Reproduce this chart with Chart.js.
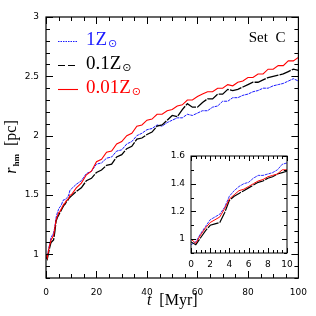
<!DOCTYPE html>
<html>
<head>
<meta charset="utf-8">
<script src="https://cdn.jsdelivr.net/npm/chart.js@4.4.1/dist/chart.umd.min.js"></script>
<style>
  body { margin: 0; background: #fff; }
  #wrap { position: relative; width: 316px; height: 316px; }
  #main { position: absolute; left: 0; top: 0; }
  #inset { position: absolute; left: 160px; top: 140px; }
</style>
</head>
<body>
<div id="wrap">
  <canvas id="main" width="316" height="316"></canvas>
  <canvas id="inset" width="140" height="140"></canvas>
</div>
<script>
// time in Myr
var times = [0, 0.5, 1, 1.5, 2, 2.5, 3, 3.5, 4, 4.5, 5, 5.5, 6, 6.5, 7, 7.5, 8, 8.5, 9, 9.5, 10,
  12, 14, 16, 18, 20, 22, 24, 26, 28, 30, 32, 34, 36, 38, 40, 42, 44, 46, 48, 50,
  52, 54, 56, 58, 60, 62, 64, 66, 68, 70, 72, 74, 76, 78, 80, 82, 84, 86, 88, 90,
  92, 94, 96, 98, 100];

// half-mass radius [pc], 1 Zsun (blue dotted)
var rhm1 = [0.96, 0.98, 1.04, 1.09, 1.14, 1.16, 1.18, 1.23, 1.31, 1.35, 1.38, 1.40, 1.41, 1.44, 1.46, 1.46, 1.47, 1.48, 1.50, 1.54, 1.55,
  1.59, 1.62, 1.68, 1.70, 1.76, 1.77, 1.81, 1.82, 1.87, 1.88, 1.93, 1.95, 2.00, 2.02, 2.05, 2.06, 2.09, 2.08, 2.11, 2.13,
  2.15, 2.15, 2.18, 2.17, 2.19, 2.21, 2.21, 2.24, 2.25, 2.29, 2.29, 2.32, 2.32, 2.34, 2.35, 2.37, 2.38, 2.40, 2.40, 2.42,
  2.43, 2.44, 2.46, 2.48, 2.46];

// 0.1 Zsun (black dashed)
var rhm01 = [0.98, 0.96, 1.01, 1.06, 1.10, 1.11, 1.12, 1.19, 1.28, 1.31, 1.33, 1.35, 1.37, 1.39, 1.41, 1.42, 1.44, 1.45, 1.47, 1.48, 1.49,
  1.53, 1.56, 1.62, 1.64, 1.69, 1.71, 1.75, 1.76, 1.82, 1.84, 1.89, 1.91, 1.97, 1.98, 2.01, 2.03, 2.08, 2.09, 2.13, 2.17,
  2.16, 2.22, 2.27, 2.24, 2.24, 2.28, 2.31, 2.31, 2.35, 2.35, 2.39, 2.38, 2.39, 2.41, 2.43, 2.45, 2.45, 2.47, 2.49, 2.50,
  2.51, 2.52, 2.54, 2.56, 2.55];

// 0.01 Zsun (red solid)
var rhm001 = [1.00, 0.97, 1.03, 1.08, 1.12, 1.14, 1.16, 1.22, 1.29, 1.32, 1.35, 1.36, 1.38, 1.40, 1.42, 1.43, 1.45, 1.46, 1.47, 1.50, 1.50,
  1.56, 1.60, 1.67, 1.70, 1.78, 1.80, 1.86, 1.87, 1.93, 1.95, 2.00, 2.02, 2.08, 2.09, 2.13, 2.14, 2.18, 2.18, 2.21, 2.22,
  2.25, 2.26, 2.30, 2.30, 2.33, 2.35, 2.37, 2.37, 2.40, 2.40, 2.43, 2.42, 2.45, 2.46, 2.49, 2.49, 2.52, 2.52, 2.56, 2.56,
  2.59, 2.59, 2.63, 2.63, 2.66];

var seriesNames = ['1Z', '0.1Z', '0.01Z'];
var xTicksMain = [0, 20, 40, 60, 80, 100];
var yTicksMain = [1, 1.5, 2, 2.5, 3];
var xTicksInset = [0, 2, 4, 6, 8, 10];
var yTicksInset = [1, 1.2, 1.4, 1.6];

var BLUE = '#1a1aff', BLACK = '#000000', RED = '#ff0000';
var tickFont = { family: 'DejaVu Sans', size: 9 };

function toPoints(ys) {
  return times.map(function (t, i) { return { x: t, y: ys[i] }; });
}

function makeDatasets(scale) {
  // red first so it sits on top
  return [
    { data: toPoints(rhm001), borderColor: RED, borderWidth: 1.1 * scale },
    { data: toPoints(rhm01), borderColor: BLACK, borderWidth: 1.3 * scale, borderDash: [12, 1.2] },
    { data: toPoints(rhm1), borderColor: BLUE, borderWidth: 1 * scale, borderDash: [3, 0.8] }
  ];
}

function drawFrameAndTicks(chart, spec) {
  var ctx = chart.ctx, a = chart.chartArea;
  var xs = chart.scales.x, ys = chart.scales.y;
  ctx.save();
  ctx.strokeStyle = '#000';
  ctx.lineWidth = spec.lw;
  ctx.strokeRect(a.left, a.top, a.right - a.left, a.bottom - a.top);
  ctx.lineWidth = 1;
  ctx.beginPath();
  var n = Math.round((xs.max - xs.min) / spec.xMinor);
  for (var i = 0; i <= n; i++) {
    var v = xs.min + i * spec.xMinor;
    var q = v / spec.xMajor;
    var len = Math.abs(q - Math.round(q)) < 1e-6 ? spec.major : spec.minor;
    var px = Math.round(xs.getPixelForValue(v)) + 0.5;
    ctx.moveTo(px, a.bottom); ctx.lineTo(px, a.bottom - len);
    ctx.moveTo(px, a.top); ctx.lineTo(px, a.top + len);
  }
  n = Math.round((ys.max - ys.min) / spec.yMinor);
  for (var j = 0; j <= n; j++) {
    var w = ys.min + j * spec.yMinor;
    var r = w / spec.yMajor;
    var l2 = Math.abs(r - Math.round(r)) < 1e-6 ? spec.major : spec.minor;
    var py = Math.round(ys.getPixelForValue(w)) + 0.5;
    ctx.moveTo(a.left, py); ctx.lineTo(a.left + l2, py);
    ctx.moveTo(a.right, py); ctx.lineTo(a.right - l2, py);
  }
  ctx.stroke();
  ctx.restore();
}

var mainDeco = {
  id: 'mainDeco',
  beforeDraw: function (chart) {
    var ctx = chart.ctx;
    ctx.save();
    ctx.fillStyle = '#fff';
    ctx.fillRect(0, 0, chart.width, chart.height);
    ctx.restore();
  },
  afterDraw: function (chart) {
    drawFrameAndTicks(chart, { lw: 1.2, xMinor: 5, xMajor: 20, yMinor: 0.1, yMajor: 0.5, major: 7, minor: 4 });
    var ctx = chart.ctx, a = chart.chartArea;
    ctx.save();
    // legend
    var colors = [BLUE, BLACK, RED];
    var dashes = [[1.5, 1], [7, 3], []];
    for (var i = 0; i < seriesNames.length; i++) {
      var y = a.top + 24 + i * 24;
      ctx.strokeStyle = colors[i];
      ctx.lineWidth = 1.1;
      ctx.setLineDash(dashes[i]);
      ctx.beginPath();
      ctx.moveTo(a.left + 12, y + 0.5);
      ctx.lineTo(a.left + 32, y + 0.5);
      ctx.stroke();
      ctx.setLineDash([]);
      ctx.fillStyle = colors[i];
      ctx.textBaseline = 'alphabetic';
      ctx.textAlign = 'left';
      ctx.font = '19px "Liberation Serif"';
      var tx = a.left + 40;
      ctx.fillText(seriesNames[i], tx, y + 4);
      var w = ctx.measureText(seriesNames[i]).width;
      ctx.font = '11px "DejaVu Sans"';
      ctx.fillText('\u2299', tx + w + 1, y + 6);
    }
    // set label
    ctx.fillStyle = '#000';
    ctx.font = '15px "Liberation Serif"';
    ctx.textAlign = 'right';
    ctx.fillText('Set  C', a.right - 13, a.top + 25);
    // x title
    ctx.textAlign = 'left';
    var cx = (a.left + a.right) / 2;
    ctx.font = 'italic 16px "Liberation Serif"';
    var wt = ctx.measureText('t').width;
    ctx.font = '16px "Liberation Serif"';
    var wm = ctx.measureText('  [Myr]').width;
    var x0 = cx - (wt + wm) / 2;
    ctx.font = 'italic 16px "Liberation Serif"';
    ctx.fillText('t', x0, 305);
    ctx.font = '16px "Liberation Serif"';
    ctx.fillText('  [Myr]', x0 + wt, 305);
    // y title
    ctx.translate(16, (a.top + a.bottom) / 2);
    ctx.rotate(-Math.PI / 2);
    ctx.font = 'italic 16px "Liberation Serif"';
    var wr = ctx.measureText('r').width;
    ctx.font = 'bold 9px "Liberation Serif"';
    var wh = ctx.measureText('hm').width;
    ctx.font = '16px "Liberation Serif"';
    var wp = ctx.measureText('  [pc]').width;
    var s0 = -(wr + wh + wp) / 2;
    ctx.font = 'italic 16px "Liberation Serif"';
    ctx.fillText('r', s0, 0);
    ctx.font = 'bold 9px "Liberation Serif"';
    ctx.fillText('hm', s0 + wr + 1, 3);
    ctx.font = '16px "Liberation Serif"';
    ctx.fillText('  [pc]', s0 + wr + wh + 1, 0);
    ctx.restore();
  }
};

var insetDeco = {
  id: 'insetDeco',
  beforeDatasetsDraw: function (chart) {
    var ctx = chart.ctx, a = chart.chartArea;
    ctx.save();
    ctx.fillStyle = '#fff';
    ctx.fillRect(a.left, a.top, a.right - a.left, a.bottom - a.top);
    ctx.restore();
  },
  afterDraw: function (chart) {
    drawFrameAndTicks(chart, { lw: 1, xMinor: 0.5, xMajor: 2, yMinor: 0.1, yMajor: 0.2, major: 5, minor: 3 });
  }
};

function axes(xmin, xmax, ymin, ymax, xt, yt, xh, yw, xpad, ypad) {
  return {
    x: {
      type: 'linear', min: xmin, max: xmax,
      grid: { display: false, drawTicks: false }, border: { display: false },
      ticks: { font: tickFont, color: '#000', padding: xpad, maxRotation: 0,
        callback: function (v) { return String(v); } },
      afterBuildTicks: function (s) { s.ticks = xt.map(function (v) { return { value: v }; }); },
      afterFit: function (s) { s.height = xh; }
    },
    y: {
      type: 'linear', min: ymin, max: ymax,
      grid: { display: false, drawTicks: false }, border: { display: false },
      ticks: { font: tickFont, color: '#000', padding: ypad,
        callback: function (v) { return String(v); } },
      afterBuildTicks: function (s) { s.ticks = yt.map(function (v) { return { value: v }; }); },
      afterFit: function (s) { s.width = yw; }
    }
  };
}

var commonOpts = function (scales, pad) {
  return {
    responsive: false,
    animation: false,
    layout: { padding: pad },
    elements: { point: { radius: 0 }, line: { tension: 0 } },
    plugins: { legend: { display: false }, tooltip: { enabled: false } },
    scales: scales
  };
};

new Chart(document.getElementById('main').getContext('2d'), {
  type: 'line',
  data: { datasets: makeDatasets(1) },
  options: commonOpts(axes(0, 100, 0.8, 3, xTicksMain, yTicksMain, 38, 46, 9, 7),
    { top: 17, right: 10, left: 0, bottom: 0 }),
  plugins: [mainDeco]
});

new Chart(document.getElementById('inset').getContext('2d'), {
  type: 'line',
  data: { datasets: makeDatasets(0.9) },
  options: commonOpts(axes(0, 10, 0.9, 1.6, xTicksInset, yTicksInset, 27, 31, 6, 6),
    { top: 16, right: 13, left: 0, bottom: 0 }),
  plugins: [insetDeco]
});
</script>
</body>
</html>
